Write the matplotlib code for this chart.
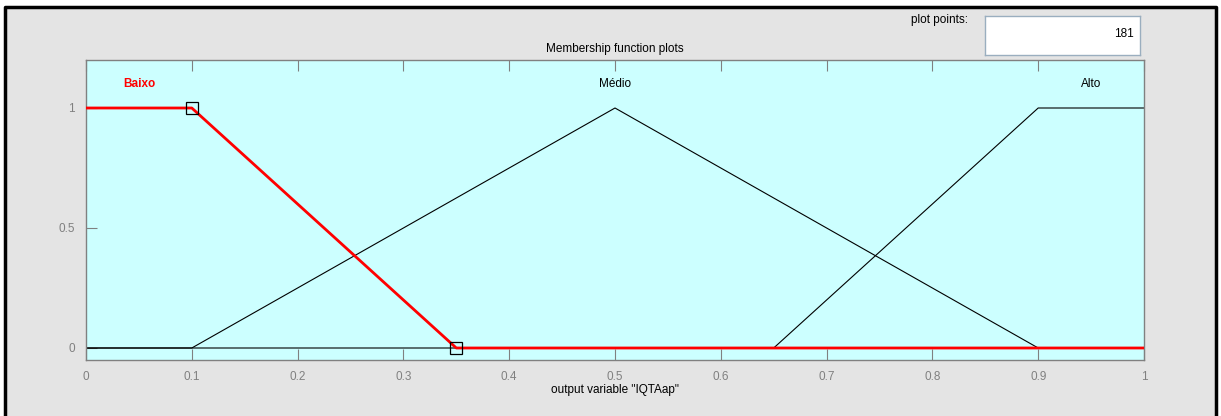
import numpy as np
import matplotlib
matplotlib.use("Agg")
import matplotlib.pyplot as plt
from matplotlib.patches import Rectangle

# membership functions of output variable "IQTAap"
mf_names = ["Baixo", "Médio", "Alto"]
baixo_x = [0.0, 0.0, 0.1, 0.35, 1.0]
baixo_y = [1.0, 1.0, 1.0, 0.0, 0.0]
medio_x = [0.0, 0.1, 0.5, 0.9, 1.0]
medio_y = [0.0, 0.0, 1.0, 0.0, 0.0]
alto_x = [0.0, 0.65, 0.9, 1.0, 1.0]
alto_y = [0.0, 0.0, 1.0, 1.0, 1.0]
label_x = [0.05, 0.5, 0.95]
label_y = 1.1
knot_x = [0.1, 0.35]
knot_y = [1.0, 0.0]
plot_points = 181
x_ticks = [0, 0.1, 0.2, 0.3, 0.4, 0.5, 0.6, 0.7, 0.8, 0.9, 1]
y_ticks = [0, 0.5, 1]

FS = 8.5
W, H = 1221, 416
fig = plt.figure(figsize=(W / 100, H / 100), dpi=100)
fig.patch.set_facecolor("white")

# grey window with black frame
fig.patches.append(Rectangle((5 / W, 0), 1211 / W, 1 - 7 / H, transform=fig.transFigure,
                             facecolor="#e4e4e4", edgecolor="none", zorder=-2))
fig.lines.append(plt.Line2D([5 / W, 5 / W, 1216 / W, 1216 / W], [0, 1 - 7 / H, 1 - 7 / H, 0],
                            transform=fig.transFigure, color="black", lw=2.5))

ax = fig.add_axes([86 / W, 1 - 360 / H, (1144 - 86) / W, 300 / H])
ax.set_facecolor("#ccffff")

ax.plot(medio_x, medio_y, color="black", lw=0.8, zorder=2)
ax.plot(alto_x, alto_y, color="black", lw=0.8, zorder=2)
ax.plot(baixo_x, baixo_y, color="red", lw=2, zorder=3)
ax.plot(knot_x, knot_y, linestyle="none", marker="s", markersize=8,
        markerfacecolor="none", markeredgecolor="black", markeredgewidth=0.9, zorder=4)

for name, lx in zip(mf_names, label_x):
    if name == "Baixo":
        ax.text(lx, label_y, name, color="red", fontweight="bold", fontsize=FS,
                ha="center", va="center", family="Liberation Sans")
    else:
        ax.text(lx, label_y, name, color="black", fontsize=FS,
                ha="center", va="center", family="Liberation Sans")

ax.set_xlim(0, 1)
ax.set_ylim(-0.05, 1.2)
ax.set_xticks(x_ticks)
ax.set_xticklabels([f"{t:g}" for t in x_ticks])
ax.set_yticks(y_ticks)
ax.set_yticklabels([f"{t:g}" for t in y_ticks])
ax.tick_params(direction="in", length=8, width=0.8, color="#808080",
               labelcolor="#808080", labelsize=FS, top=True, right=False, pad=8)
for lab in ax.get_xticklabels() + ax.get_yticklabels():
    lab.set_family("Liberation Sans")
for s in ax.spines.values():
    s.set_color("#808080")
    s.set_linewidth(1)

ax.set_title("Membership function plots", fontsize=FS, family="Liberation Sans", pad=6)
ax.set_xlabel('output variable "IQTAap"', fontsize=FS, family="Liberation Sans", labelpad=1)

# plot points box
fig.text(968 / W, 1 - 20 / H, "plot points:", fontsize=FS, ha="right", va="center",
         family="Liberation Sans")
box = fig.add_axes([985 / W, 1 - 55 / H, 155 / W, 39 / H])
box.set_xticks([])
box.set_yticks([])
box.set_facecolor("white")
for s in box.spines.values():
    s.set_color("#9aaebf")
    s.set_linewidth(1)
box.text(0.96, 0.55, str(plot_points), fontsize=FS, ha="right", va="center",
         transform=box.transAxes, family="Liberation Sans")

fig.savefig("out.png", dpi=100)
